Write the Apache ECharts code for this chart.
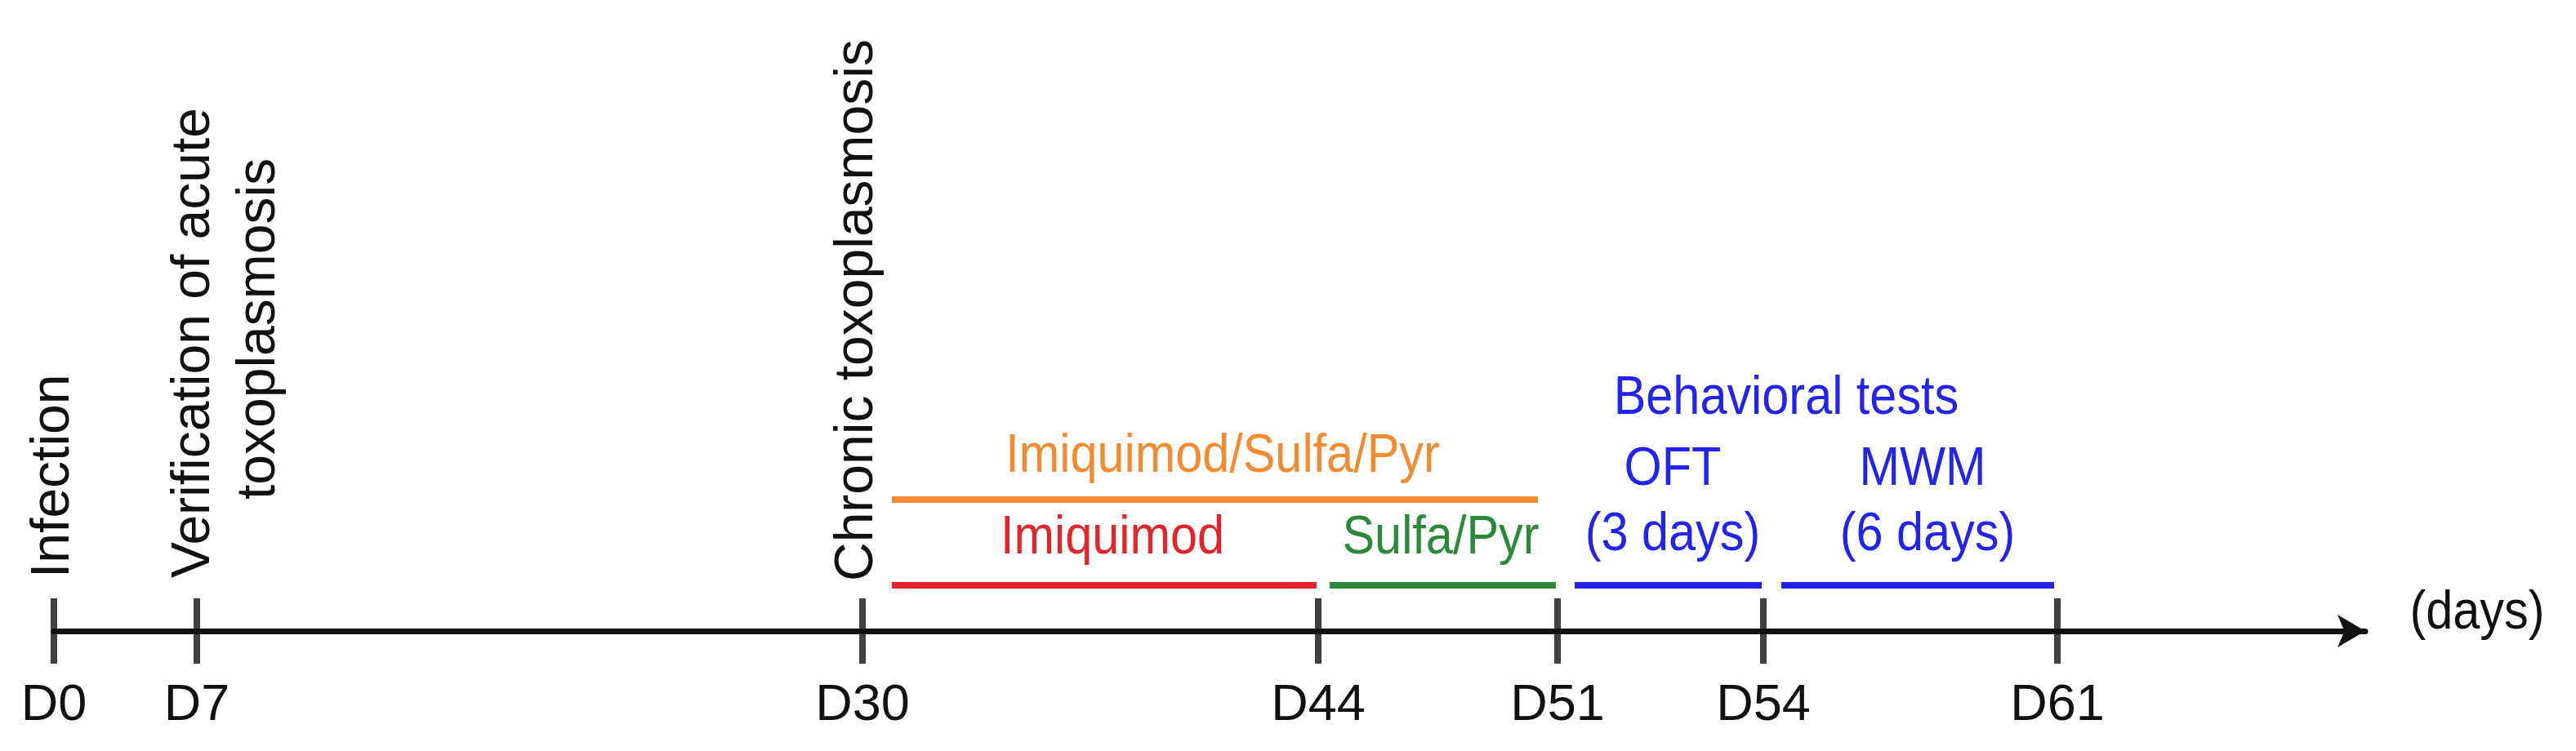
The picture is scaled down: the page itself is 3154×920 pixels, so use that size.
<!DOCTYPE html>
<html>
<head>
<meta charset="utf-8">
<script src="https://cdn.jsdelivr.net/npm/echarts@6/dist/echarts.min.js"></script>
<style>
  html, body { margin: 0; padding: 0; background: #fff; }
  #main { width: 3154px; height: 920px; }
</style>
</head>
<body>
<div id="main"></div>
<script>
(function () {

    // timeline days and where each day sits on the (not to scale) axis
    var dayTicks = [0, 7, 30, 44, 51, 54, 61];
    var tickPos = [66, 241, 1056, 1614, 1907, 2159, 2519];

    // treatment / test periods (in days)
    var segNames = ['Imiquimod/Sulfa/Pyr', 'Imiquimod', 'Sulfa/Pyr', 'OFT', 'MWM'];
    var segStart = [30, 30, 44, 51, 54];
    var segEnd = [51, 44, 51, 54, 61];
    var segColors = ['#f28a30', '#e3242b', '#2a8a3a', '#2323ee', '#2323ee'];
    var segRow = [612, 717, 717, 717, 717];
    var segStartGap = [36, 36, 14, 21, 22];
    var segEndGap = [24, 2, 2, 2, 4];

    // event labels (vertical)
    var eventTexts = ['Infection', 'Verification of acute', 'toxoplasmosis', 'Chronic toxoplasmosis'];

    function pos(day) {
        return tickPos[dayTicks.indexOf(day)];
    }

    var myChart = echarts.init(document.getElementById('main'));
    var font = '"Liberation Sans", Arial, sans-serif';

    var series = [];
    for (var i = 0; i < segNames.length; i++) {
        series.push({
            type: 'line',
            name: segNames[i],
            showSymbol: false,
            silent: true,
            clip: false,
            lineStyle: { color: segColors[i], width: 8 },
            data: [
                [pos(segStart[i]) + segStartGap[i], segRow[i]],
                [pos(segEnd[i]) - segEndGap[i], segRow[i]]
            ]
        });
    }

    // ticks crossing the axis
    series.push({
        type: 'scatter',
        symbol: 'rect',
        symbolSize: [8, 80],
        clip: false,
        silent: true,
        itemStyle: { color: '#111' },
        data: tickPos.map(function (p) { return [p, 773]; })
    });

    var option = {
        animation: false,
        grid: { left: 66, right: 258, top: 0, height: 773 },
        xAxis: {
            type: 'value',
            min: 66,
            max: 2896,
            splitLine: { show: false },
            axisTick: { show: false },
            axisLine: {
                show: true,
                onZero: false,
                symbol: ['none', 'arrow'],
                symbolSize: [30, 34],
                lineStyle: { color: '#111', width: 7 }
            },
            axisLabel: {
                customValues: tickPos,
                formatter: function (v) {
                    return 'D' + dayTicks[tickPos.indexOf(v)];
                },
                margin: 60,
                fontSize: 63,
                fontFamily: font,
                color: '#111',
                showMinLabel: true,
                showMaxLabel: true
            }
        },
        yAxis: {
            type: 'value',
            min: 0,
            max: 773,
            inverse: true,
            show: false
        },
        series: series
    };

    myChart.setOption(option);

    function px(x, y) {
        return myChart.convertToPixel({ gridIndex: 0 }, [x, y]);
    }

    function hText(text, x, y, color) {
        var p = px(x, y);
        return {
            type: 'text', x: p[0], y: p[1], scaleX: 0.9, originX: 0, originY: 0,
            style: {
                text: text, fill: color, fontSize: 66, fontFamily: font,
                align: 'center', verticalAlign: 'middle'
            }
        };
    }

    function vText(text, x, yBottom) {
        var p = px(x, yBottom);
        return {
            type: 'text', x: p[0], y: p[1], rotation: Math.PI / 2,
            style: {
                text: text, fill: '#111', fontSize: 66, fontFamily: font,
                align: 'left', verticalAlign: 'middle'
            }
        };
    }

    myChart.setOption({
        graphic: [
            vText(eventTexts[0], 66, 708),
            vText(eventTexts[1], 238, 708),
            vText(eventTexts[2], 318, 612),
            vText(eventTexts[3], 1050, 712),
            hText(segNames[0], 1497, 560, segColors[0]),
            hText(segNames[1], 1362, 660, segColors[1]),
            hText(segNames[2], 1764, 660, segColors[2]),
            hText('Behavioral tests', 2187, 489, segColors[3]),
            hText(segNames[3], 2048, 576, segColors[3]),
            hText('(3 days)', 2048, 656, segColors[3]),
            hText(segNames[4], 2354, 576, segColors[4]),
            hText('(6 days)', 2360, 656, segColors[4]),
            hText('(days)', 3033, 752, '#111')
        ]
    });

}());
</script>
</body>
</html>
